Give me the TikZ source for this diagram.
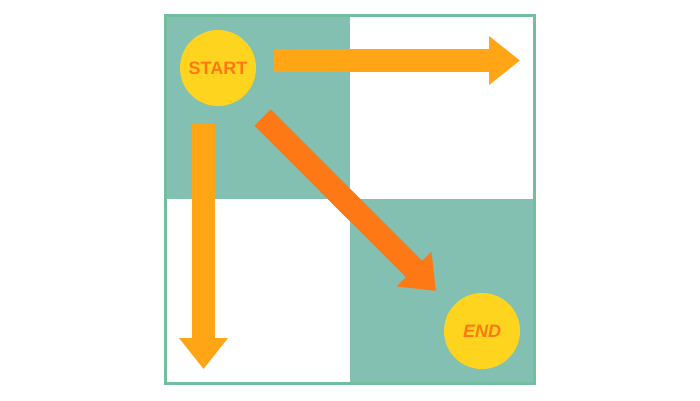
\documentclass[tikz,border=0pt]{standalone}
\usepackage{fontspec}
\setmainfont{Liberation Sans}[BoldFont={Liberation Sans Bold},
  BoldItalicFont={Liberation Sans Bold Italic}]
\usepackage{xcolor}
\usepackage{tikz}
\usetikzlibrary{arrows.meta}
\definecolor{cellteal}{RGB}{132,192,178}
\definecolor{frameline}{RGB}{112,192,160}
\definecolor{dotyellow}{RGB}{255,212,30}
\definecolor{arrowlight}{RGB}{255,165,22}
\definecolor{arrowdark}{RGB}{255,120,22}

\begin{document}
\begin{tikzpicture}[
      x=1pt,y=1pt,
      dot/.style={circle,fill=dotyellow,minimum size=76pt,inner sep=0pt,
                  text=arrowdark,font=\fontsize{18}{18}\selectfont\bfseries},
      bigarrow/.style={line width=23pt,
                       -{Triangle[length=31pt,width=47pt]}},
      cell/.style={fill=cellteal}]

    \useasboundingbox (0,0) rectangle (700,400);

    \fill[cell] (165.5,201) rectangle (350,384.5);
    \fill[cell] (350,16.5) rectangle (534.5,201);
    \draw[frameline,line width=3pt] (165.5,16.5) rectangle (534.5,384.5);

    \node[dot] (start) at (218,332) {START};
    \node[dot,font=\fontsize{18}{18}\selectfont\bfseries\itshape] (finish) at (482,69) {END};

    \coordinate (rightfrom) at (274,339.5);
    \coordinate (rightto) at (520,339.5);
    \coordinate (downfrom) at (203.5,276);
    \coordinate (downto) at (203.5,31);
    \coordinate (diagfrom) at (262.5,282.5);
    \coordinate (diagto) at (436,109);

    \draw[bigarrow,arrowlight] (rightfrom) -- (rightto);
    \draw[bigarrow,arrowlight] (downfrom) -- (downto);
    \draw[bigarrow,arrowdark] (diagfrom) -- (diagto);
  \end{tikzpicture}
\end{document}
